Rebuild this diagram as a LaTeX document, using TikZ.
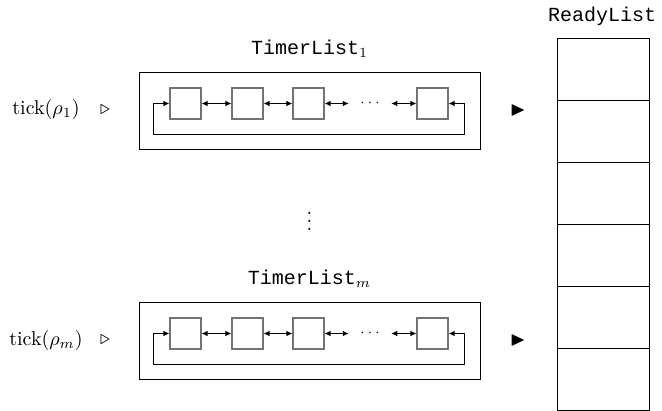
\documentclass[tikz,border=0pt]{standalone}
\usepackage{amssymb}
\usepackage{fontspec}
\setmonofont{Liberation Mono}
\usetikzlibrary{arrows.meta,calc}
\begin{document}
\begin{tikzpicture}[x=0.5pt,y=-0.5pt,
  cell/.style={draw=black!55, line width=0.65pt, minimum size=15.5pt, inner sep=0pt},
  frame/.style={draw, line width=0.45pt, minimum width=170.5pt, minimum height=38.5pt, inner sep=0pt},
  slot/.style={draw, line width=0.45pt, minimum width=46pt, minimum height=31pt, inner sep=0pt},
  link/.style={line width=0.45pt, {Latex[length=3pt,width=2.8pt]}-{Latex[length=3pt,width=2.8pt]}},
  lbl/.style={font=\ttfamily, inner sep=0pt}]
\useasboundingbox (0,0) rectangle (662,411);

% the two timer lists
\foreach \p/\dy/\s in {t/0/1, b/230/m} {
  \node[frame] (\p-box) at (309.5,110.5+\dy) {};
  \node[lbl] (\p-name) at (309.5,49+\dy) {TimerList$_{\s}$};
  \node (\p-tick) at (46,110+\dy) {tick$(\rho_{\s})$};
  \node[inner sep=0pt] (\p-in) at (105,110+\dy) {$\triangleright$};
  \node[inner sep=0pt] (\p-out) at (518,110+\dy) {$\blacktriangleright$};
  \node[cell] (\p-c1) at (185.5,103.5+\dy) {};
  \node[cell] (\p-c2) at (247.5,103.5+\dy) {};
  \node[cell] (\p-c3) at (308.5,103.5+\dy) {};
  \node[font=\scriptsize, inner xsep=5.5pt, inner ysep=0pt] (\p-dots) at (370,103.5+\dy) {$\cdots$};
  \node[cell] (\p-c4) at (432.5,103.5+\dy) {};
  \draw[link] (\p-c1) -- (\p-c2);
  \draw[link] (\p-c2) -- (\p-c3);
  \draw[link] (\p-c3) -- (\p-dots);
  \draw[link] (\p-dots) -- (\p-c4);
  \draw[link] (\p-c4.east) -- ++(16,0) -- ++(0,31)
     -| ($(\p-c1.west)+(-16,0)$) -- (\p-c1.west);
}

\node (vdots) at (309.5,215) {$\vdots$};

% ready list
\node[lbl] (ready) at (602,16) {ReadyList};
\foreach \i in {1,...,6}
  \node[slot] (r\i) at (603,69+62*\i-62) {};
\end{tikzpicture}
\end{document}
